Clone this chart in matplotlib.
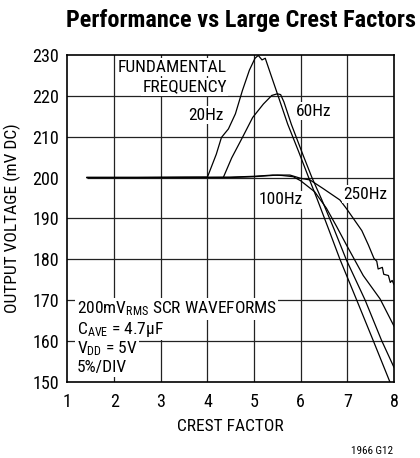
import matplotlib.pyplot as plt

# Curves: crest factor vs output voltage (mV DC)
x_20hz = [1.42, 2.5, 3.5, 4.0, 4.19, 4.30, 4.45, 4.60, 4.75, 4.90, 5.02, 5.09, 5.17, 5.24,
          5.35, 5.50, 5.72, 5.95, 6.17, 6.35, 6.60, 6.84, 7.20, 7.55, 7.91]
y_20hz = [200.0, 200.0, 200.1, 200.1, 205.7, 209.8, 211.9, 215.6, 221.3, 226.3, 229.2, 229.9, 228.8, 229.2,
          225.5, 220.5, 213.1, 206.5, 200.0, 194.8, 187.3, 180.0, 170.0, 160.2, 150.0]

x_60hz = [1.42, 2.5, 3.5, 4.34, 4.52, 4.75, 4.97, 5.20, 5.38, 5.50, 5.57, 5.64, 5.80, 6.05,
          6.24, 6.45, 6.71, 6.98, 7.38, 7.73, 8.0]
y_60hz = [200.0, 200.0, 200.0, 200.0, 204.8, 209.8, 214.7, 218.0, 220.1, 220.5, 220.3, 218.5, 213.0, 205.5,
          200.0, 194.6, 187.5, 179.8, 170.0, 160.2, 153.5]

x_100hz = [1.42, 2.5, 3.5, 4.5, 5.0, 5.4, 5.6, 5.84, 6.0, 6.3, 6.55, 6.77, 6.98, 7.34, 7.70, 8.0]
y_100hz = [200.0, 200.0, 200.0, 200.1, 200.3, 200.6, 200.5, 200.2, 199.2, 196.5, 192.5, 188.0, 183.5, 176.0, 170.3, 163.6]

x_250hz = [1.42, 2.5, 3.5, 4.5, 5.0, 5.5, 5.77, 6.0, 6.20, 6.48, 6.84, 6.98, 7.20, 7.31, 7.45,
           7.57, 7.63, 7.66, 7.75, 7.78, 7.88, 7.92, 7.96, 8.0]
y_250hz = [200.0, 200.0, 200.0, 200.0, 200.2, 200.6, 200.6, 199.8, 199.4, 197.3, 194.5, 192.4, 188.8, 187.0, 183.5,
           180.2, 179.5, 177.6, 178.0, 176.3, 176.0, 174.3, 174.8, 173.8]

x_ticks = [1, 2, 3, 4, 5, 6, 7, 8]
y_ticks = [150, 160, 170, 180, 190, 200, 210, 220, 230]

# condensed face, like the datasheet's Helvetica Condensed
fonte = ['Roboto Condensed', 'Liberation Sans', 'DejaVu Sans']
plt.rcParams['font.family'] = fonte
plt.rcParams['mathtext.fontset'] = 'custom'
plt.rcParams['mathtext.rm'] = 'Roboto Condensed'
plt.rcParams['mathtext.it'] = 'Roboto Condensed'

fig = plt.figure(figsize=(4.2, 4.58), dpi=100)
ax = fig.add_axes([0.1607, 0.1666, 0.7774, 0.7133])

# grid (the 200 mV line only starts where the traces start)
for xv in x_ticks[1:-1]:
    ax.axvline(xv, color='#222222', linewidth=0.9, zorder=1)
for yv in y_ticks[1:-1]:
    if yv == 200:
        ax.hlines(yv, x_20hz[0], 8, color='#222222', linewidth=0.9, zorder=1)
    else:
        ax.axhline(yv, color='#222222', linewidth=0.9, zorder=1)

for xs, ys in [(x_20hz, y_20hz), (x_60hz, y_60hz), (x_100hz, y_100hz), (x_250hz, y_250hz)]:
    ax.plot(xs, ys, color='black', linewidth=0.9, zorder=2)

ax.set_xlim(1, 8)
ax.set_ylim(150, 230)
ax.set_xticks(x_ticks)
ax.set_yticks(y_ticks)
ax.tick_params(length=0, labelsize=13)
ax.tick_params(axis='y', pad=6)
ax.tick_params(axis='x', pad=8)
for s in ax.spines.values():
    s.set_linewidth(1.2)

ax.set_xlabel('CREST FACTOR', fontsize=12.5, labelpad=6)
ax.set_ylabel('OUTPUT VOLTAGE (mV DC)', fontsize=12.5, labelpad=8)

caixa = dict(facecolor='white', edgecolor='none', pad=1)
ax.text(4.42, 227.0, 'FUNDAMENTAL', ha='right', va='center', fontsize=12.5, bbox=caixa, zorder=3)
ax.text(4.42, 222.2, 'FREQUENCY', ha='right', va='center', fontsize=12.5, bbox=caixa, zorder=3)
ax.text(3.97, 215.3, '20Hz', ha='center', va='center', fontsize=12.5, bbox=caixa, zorder=3)
ax.text(6.27, 216.2, '60Hz', ha='center', va='center', fontsize=12.5, bbox=caixa, zorder=3)
ax.text(5.58, 194.5, '100Hz', ha='center', va='center', fontsize=12.5, bbox=caixa, zorder=3)
ax.text(7.38, 195.9, '250Hz', ha='center', va='center', fontsize=12.5, bbox=caixa, zorder=3)

ax.text(1.20, 167.8, r'200mV$_{\mathrm{RMS}}$ SCR WAVEFORMS', ha='left', va='center', fontsize=12.5, bbox=caixa, zorder=3)
ax.text(1.20, 162.9, r'C$_{\mathrm{AVE}}$ = 4.7µF', ha='left', va='center', fontsize=12.5, bbox=caixa, zorder=3)
ax.text(1.20, 158.0, r'V$_{\mathrm{DD}}$ = 5V', ha='left', va='center', fontsize=12.5, bbox=caixa, zorder=3)
ax.text(1.20, 153.4, '5%/DIV', ha='left', va='center', fontsize=12.5, bbox=caixa, zorder=3)

fig.text(241 / 420, 1 - 21 / 458, 'Performance vs Large Crest Factors', ha='center', va='center',
         fontsize=17.5, fontweight='bold')
fig.text(393 / 420, 1 - 451 / 458, '1966 G12', ha='right', va='center', fontsize=8)

plt.savefig('out.png')
